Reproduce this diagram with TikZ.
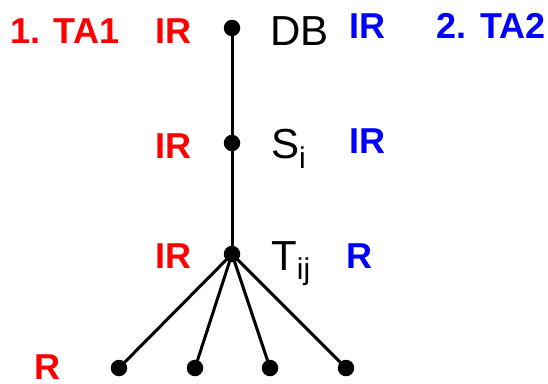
\documentclass[tikz,border=0pt]{standalone}
\usepackage{fontspec}
\setmainfont{Liberation Sans}
\begin{document}
\begin{tikzpicture}[x=1pt,y={(0pt,-1pt)},
  vdot/.style={circle,fill=black,inner sep=0pt,minimum size=16.5pt},
  link/.style={line width=3pt,draw=black},
  lab/.style={inner sep=0pt,font=\fontsize{36}{36}\selectfont\bfseries,anchor=base},
  redlab/.style={lab,text={rgb,255:red,255;green,0;blue,0}},
  bluelab/.style={lab,text={rgb,255:red,0;green,0;blue,255}},
  vname/.style={inner sep=0pt,anchor=base west,font=\fontsize{42}{42}\selectfont}]
\useasboundingbox (0,0) rectangle (548,383);
% dots
\node[vdot] (db) at (232,28) {};
\node[vdot] (si) at (232,143) {};
\node[vdot] (tij) at (232,254) {};
\node[vdot] (l1) at (119,368) {};
\node[vdot] (l2) at (195,368) {};
\node[vdot] (l3) at (270,368) {};
\node[vdot] (l4) at (346,368) {};
% edges
\draw[link] (db.center) -- (si.center);
\draw[link] (si.center) -- (tij.center);
\foreach \l in {l1,l2,l3,l4} \draw[link] (tij.center) -- (\l.center);
% names
\node[vname] (ndb) at (270,45) {DB};
\node[vname] (nsi) at (271,158) {S\raisebox{-10pt}{\fontsize{30}{30}\selectfont i}};
\node[vname] (ntij) at (271,270) {T\raisebox{-9pt}{\fontsize{30}{30}\selectfont ij}};
% red labels
\node[redlab] (ta1) at (65,43) {1. TA1};
\node[redlab] (r1) at (173.5,43) {IR};
\node[redlab] (r2) at (173.5,158) {IR};
\node[redlab] (r3) at (173.5,268) {IR};
\node[redlab] (r4) at (47,379) {R};
% blue labels
\node[bluelab] (ta2) at (491,38) {2. TA2};
\node[bluelab] (b1) at (367,38) {IR};
\node[bluelab] (b2) at (367,153) {IR};
\node[bluelab] (b3) at (359,268) {R};
\end{tikzpicture}
\end{document}
